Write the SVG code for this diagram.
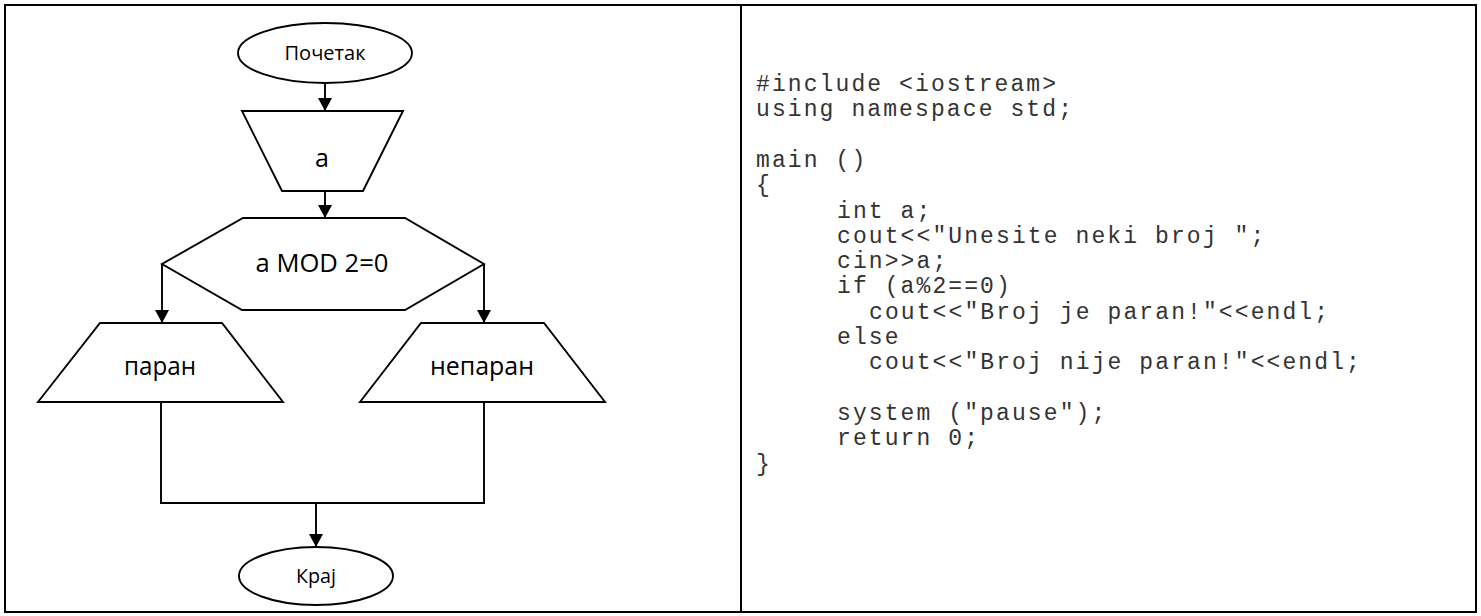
<svg xmlns="http://www.w3.org/2000/svg" width="1481" height="616" viewBox="0 0 1481 616">
<style>
.frame{fill:none;stroke:#000;stroke-width:2}
.shape{fill:#fff;stroke:#000;stroke-width:1.9}
.conn{fill:none;stroke:#000;stroke-width:1.9}
.lbl{font-family:"Open Sans","Noto Sans","Liberation Sans",sans-serif;fill:#000;text-anchor:middle}
.code{font-family:"Liberation Mono","Courier New",monospace;font-size:23px;letter-spacing:2.1px;fill:#333}
</style>
<defs>
<marker id="arr" markerUnits="userSpaceOnUse" viewBox="0 0 13 14" refX="13" refY="7" markerWidth="13" markerHeight="14" orient="auto">
<path d="M0,0 L13,7 L0,14 z" fill="#000"/>
</marker>
</defs>
<rect x="0" y="0" width="1481" height="616" fill="#fff"/>
<g id="table">
<rect class="frame" x="5" y="5" width="1471" height="607"/>
<line class="frame" x1="741" y1="5" x2="741" y2="612"/>
</g>
<g id="connectors">
<path class="conn" d="M325,83 L325,111" marker-end="url(#arr)"/>
<path class="conn" d="M325,191 L325,218" marker-end="url(#arr)"/>
<path class="conn" d="M162,264 L162,323" marker-end="url(#arr)"/>
<path class="conn" d="M484,264 L484,323" marker-end="url(#arr)"/>
<path class="conn" d="M161,402 L161,503 L484,503 L484,402"/>
<path class="conn" d="M316,503 L316,547" marker-end="url(#arr)"/>
</g>
<g id="start">
<ellipse class="shape" cx="325" cy="53" rx="87" ry="30"/>
<text class="lbl" x="325" y="60" font-size="20" textLength="81" lengthAdjust="spacingAndGlyphs">Почетак</text>
</g>
<g id="input-a">
<polygon class="shape" points="242,111 403,111 363,191 282,191"/>
<text class="lbl" x="322" y="167" font-size="25">a</text>
</g>
<g id="decision">
<polygon class="shape" points="243,218 405,218 484,264 405,310 242,310 162,264"/>
<text class="lbl" x="322" y="272" font-size="25" textLength="133" lengthAdjust="spacingAndGlyphs">a MOD 2=0</text>
</g>
<g id="out-paran">
<polygon class="shape" points="100,323 222,323 283,402 38,402"/>
<text class="lbl" x="160" y="375" font-size="25" textLength="72" lengthAdjust="spacingAndGlyphs">паран</text>
</g>
<g id="out-neparan">
<polygon class="shape" points="421,323 544,323 605,402 360,402"/>
<text class="lbl" x="482" y="375" font-size="25" textLength="104" lengthAdjust="spacingAndGlyphs">непаран</text>
</g>
<g id="end">
<ellipse class="shape" cx="316" cy="576" rx="77" ry="29"/>
<text class="lbl" x="316" y="583" font-size="20" textLength="40" lengthAdjust="spacingAndGlyphs">Крај</text>
</g>
<g id="code">
<text class="code" x="756" y="91">#include &lt;iostream&gt;</text>
<text class="code" x="756" y="116.3">using namespace std;</text>
<text class="code" x="756" y="166.9">main ()</text>
<text class="code" x="756" y="192.2">{</text>
<text class="code" x="837" y="217.5">int a;</text>
<text class="code" x="837" y="242.8">cout&lt;&lt;"Unesite neki broj ";</text>
<text class="code" x="837" y="268.1">cin&gt;&gt;a;</text>
<text class="code" x="837" y="293.4">if (a%2==0)</text>
<text class="code" x="869" y="318.7">cout&lt;&lt;"Broj je paran!"&lt;&lt;endl;</text>
<text class="code" x="837" y="344">else</text>
<text class="code" x="869" y="369.3">cout&lt;&lt;"Broj nije paran!"&lt;&lt;endl;</text>
<text class="code" x="837" y="419.9">system ("pause");</text>
<text class="code" x="837" y="445.2">return 0;</text>
<text class="code" x="756" y="470.5">}</text>
</g>
</svg>
